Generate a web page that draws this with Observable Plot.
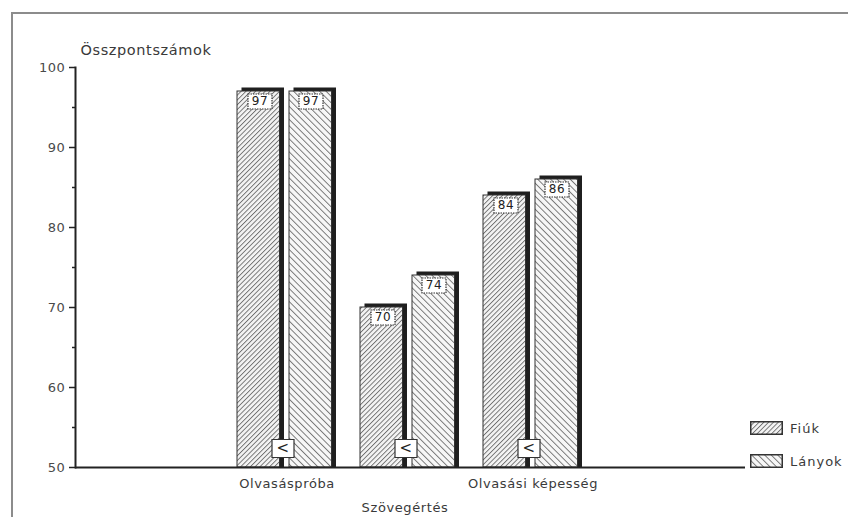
<!DOCTYPE html>
<html>
<head>
<meta charset="utf-8">
<script src="https://cdn.jsdelivr.net/npm/d3@7"></script>
<script src="https://cdn.jsdelivr.net/npm/@observablehq/plot@0.6"></script>
<style>
  html, body { margin: 0; padding: 0; background: #fff; }
  #wrap { position: relative; width: 848px; height: 517px; overflow: hidden;
          font-family: "DejaVu Sans", sans-serif; color: #3a3a3a; }
  #border { position: absolute; left: 11px; top: 12px; width: 900px; height: 600px;
            border-top: 2px solid #8c8c8c; border-left: 2px solid #8c8c8c; }
  #chart { position: absolute; left: 0; top: 0; }
  #chart svg text { letter-spacing: 0.6px; }
  #legend { position: absolute; left: 750px; top: 420px; font-size: 13px; letter-spacing: 1px; color: #3a3a3a; }
  #legend .item { display: flex; align-items: center; height: 16px; margin-bottom: 17px; }
  #legend svg { margin-right: 7px; }
</style>
</head>
<body>
<svg width="0" height="0" style="position:absolute">
  <defs>
    <pattern id="hatchFiuk" patternUnits="userSpaceOnUse" width="3.4" height="3.4" patternTransform="rotate(45)">
      <rect width="3.4" height="3.4" fill="#f4f4f4"></rect>
      <line x1="0.5" y1="0" x2="0.5" y2="3.4" stroke="#5a5a5a" stroke-width="0.8"></line>
    </pattern>
    <pattern id="hatchLanyok" patternUnits="userSpaceOnUse" width="4.6" height="4.6" patternTransform="rotate(-45)">
      <rect width="4.6" height="4.6" fill="#f7f7f7"></rect>
      <line x1="0.5" y1="0" x2="0.5" y2="4.6" stroke="#6e6e6e" stroke-width="0.9"></line>
    </pattern>
  </defs>
</svg>
<div id="wrap">
  <div id="border"></div>
  <div id="chart"></div>
  <div id="legend"></div>
</div>
<script>
// Reading test scores by test type, boys vs girls
const groups = ["Olvasáspróba", "Szövegértés", "Olvasási képesség"];
const fiuk = [97, 70, 84];
const lanyok = [97, 74, 86];
const relation = ["<", "<", "<"];
const labelTier = [0, 1, 0];
const series = ["Fiúk", "Lányok"];
const seriesFill = ["url(#hatchFiuk)", "url(#hatchLanyok)"];
const yMajor = [50, 60, 70, 80, 90, 100];
const yMinor = [55, 65, 75, 85, 95];
const yTitle = "Összpontszámok";
const base = 50;

const rows = groups.map((g, i) => ({
  group: g, fiuk: fiuk[i], lanyok: lanyok[i], rel: relation[i], tier: labelTier[i]
}));

// geometry of the paired bars inside each group band (band ≈ 99px)
const half = 49.5, gap = 5, depth = 4.5;
const fInset = {insetLeft: 0, insetRight: half + gap / 2 + depth};
const lInset = {insetLeft: half + gap / 2, insetRight: depth};
const fCenter = -27, lCenter = 24;

const box = (w, h) => ({
  draw(ctx) {
    ctx.moveTo(-w / 2, -h / 2); ctx.lineTo(w / 2, -h / 2);
    ctx.lineTo(w / 2, h / 2); ctx.lineTo(-w / 2, h / 2); ctx.closePath();
  }
});

const chart = Plot.plot({
  width: 848,
  height: 517,
  marginLeft: 75,
  marginRight: 103,
  marginTop: 67,
  marginBottom: 50,
  style: {fontFamily: "'DejaVu Sans', sans-serif", background: "transparent", color: "#3a3a3a"},
  x: {domain: groups, paddingInner: 0.195, paddingOuter: 1.32, axis: null},
  y: {domain: [50, 100], axis: null},
  marks: [
    // dark depth faces (top and right side) behind each bar
    Plot.barY(rows, {x: "group", y1: base, y2: "fiuk", ...fInset, dx: depth, dy: -3.5, insetBottom: -3.5, fill: "#1f1f1f"}),
    Plot.barY(rows, {x: "group", y1: base, y2: "lanyok", ...lInset, dx: depth, dy: -3.5, insetBottom: -3.5, fill: "#1f1f1f"}),
    // hatched front faces
    Plot.barY(rows, {x: "group", y1: base, y2: "fiuk", ...fInset, fill: seriesFill[0], stroke: "#333", strokeWidth: 1}),
    Plot.barY(rows, {x: "group", y1: base, y2: "lanyok", ...lInset, fill: seriesFill[1], stroke: "#333", strokeWidth: 1}),
    // value boxes near the top of each bar
    Plot.dot(rows, {x: "group", y: "fiuk", dx: fCenter, dy: 10, symbol: box(24, 15), fill: "white", stroke: "#333", strokeWidth: 1.2, strokeDasharray: "1.5,1"}),
    Plot.dot(rows, {x: "group", y: "lanyok", dx: lCenter, dy: 10, symbol: box(24, 15), fill: "white", stroke: "#333", strokeWidth: 1.2, strokeDasharray: "1.5,1"}),
    Plot.text(rows, {x: "group", y: "fiuk", text: d => String(d.fiuk), dx: fCenter, dy: 10, fontSize: 12, fill: "#222"}),
    Plot.text(rows, {x: "group", y: "lanyok", text: d => String(d.lanyok), dx: lCenter, dy: 10, fontSize: 12, fill: "#222"}),
    // comparison sign between the pair
    Plot.dot(rows, {x: "group", y: base, dx: -4, dy: -19, symbol: box(22, 18), fill: "white", stroke: "#333", strokeWidth: 1.2}),
    Plot.text(rows, {x: "group", y: base, text: "rel", dx: -4, dy: -19, fontSize: 15, fill: "#222"}),
    // axes
    Plot.ruleY([base], {stroke: "#222", strokeWidth: 2}),
    Plot.frame({anchor: "left", stroke: "#222", strokeWidth: 2}),
    Plot.axisY({ticks: yMajor, tickSize: 6, tickPadding: 4, fontSize: 13, label: null, tickFormat: d => String(d), stroke: "#222", strokeWidth: 1.5, fill: "#4a4a4a"}),
    Plot.axisY({ticks: yMinor, tickSize: 3, label: null, tickFormat: null, text: null, stroke: "#222", strokeWidth: 1.5}),
    // y title
    Plot.text([yTitle], {frameAnchor: "top-left", text: d => d, textAnchor: "start", dx: 5, dy: -23, fontSize: 14.5, fill: "#3a3a3a"}),
    // group labels, middle one set on a lower line
    Plot.text(rows, {filter: d => d.tier === 0, x: "group", y: base, text: "group", dy: 16, fontSize: 13, fill: "#3a3a3a"}),
    Plot.text(rows, {filter: d => d.tier === 1, x: "group", y: base, text: "group", dx: -5, dy: 40, fontSize: 13, fill: "#3a3a3a"})
  ]
});
document.getElementById("chart").append(chart);

// legend
const legend = d3.select("#legend");
series.forEach((s, i) => {
  const item = legend.append("div").attr("class", "item");
  const sw = item.append("svg").attr("width", 33).attr("height", 14);
  sw.append("rect").attr("x", 0.75).attr("y", 0.75).attr("width", 31.5).attr("height", 12.5)
    .attr("fill", seriesFill[i]).attr("stroke", "#333").attr("stroke-width", 1.5);
  item.append("span").text(s);
});
</script>
</body>
</html>
